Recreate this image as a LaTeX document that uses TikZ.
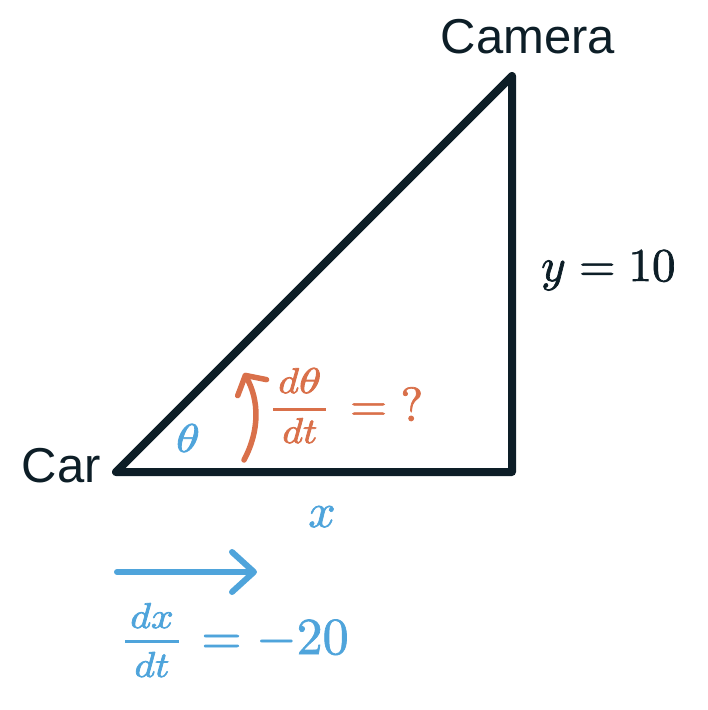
\documentclass[tikz,border=0pt]{standalone}
\usepackage{amsmath}
\usepackage{graphicx}
\usepackage[no-math]{fontspec}
\DeclareFontShape{OT1}{cmr}{m}{n}{<->cmr10}{}
\DeclareFontShape{OML}{cmm}{m}{it}{<->cmmi10}{}
\DeclareFontShape{OMS}{cmsy}{m}{n}{<->cmsy10}{}
\DeclareFontShape{OMX}{cmex}{m}{n}{<->cmex10}{}
\newfontfamily\labelfont{Liberation Sans}
\usetikzlibrary{arrows.meta}
\definecolor{ink}{HTML}{0D1E27}
\definecolor{skyb}{HTML}{4FA4DB}
\definecolor{rust}{HTML}{D9704A}
% slightly heavier rendering of the math glyphs (fill + thin stroke)
\newcommand\heavy[1]{\special{pdf:literal direct 2 Tr 0.7 w}#1\special{pdf:literal direct 0 Tr}}
% #1 numerator, #2 denominator, #3 raise of numerator, #4 raise of denominator, #5 side padding
\newcommand\kfrac[5]{\genfrac{}{}{3pt}{1}%
  {\raisebox{#3}{\hbox{\kern#5\fontsize{36}{36}\selectfont#1\kern#5}}}%
  {\raisebox{#4}{\hbox{\kern#5\fontsize{36}{36}\selectfont#2\kern#5}}}}
\tikzset{
  tri/.style={draw=ink, line width=8pt, line join=round, line cap=round},
  word/.style={inner sep=0pt, text=ink, font=\labelfont\fontsize{49}{58}\selectfont},
  mathlbl/.style={inner sep=0pt, font=\fontsize{48}{56}\selectfont},
  bluearrow/.style={draw=skyb, line width=6pt, line cap=round, -{Straight Barb[length=22pt,width=40pt,line cap=round,line join=round]}},
  rustarrow/.style={draw=rust, line width=5.5pt, line cap=round, -{Straight Barb[length=14pt,width=33pt,line cap=round,line join=round]}}
}
\begin{document}
\begin{tikzpicture}[x=1pt,y=-1pt]
\useasboundingbox (0,0) rectangle (708,710);
\coordinate (car) at (116,472);
\coordinate (corner) at (512,472);
\coordinate (cam) at (512,76);
\draw[tri] (car) -- (corner) -- (cam) -- cycle;
\node[word, anchor=base east] (carlbl) at (101,482) {Car};
\node[word, anchor=base] (camlbl) at (528,53) {Camera};
\node[mathlbl, text=skyb, font=\fontsize{40}{48}\selectfont] (theta) at (188,438) {\heavy{\scalebox{1.2}[1]{$\theta$}}};
\node[mathlbl, text=skyb, anchor=base] (xlbl) at (322,527) {\heavy{$x$}};
\node[mathlbl, text=ink, anchor=base west, font=\fontsize{47}{56}\selectfont] (ylbl) at (541,281) {\heavy{$y=10$}};
\coordinate (ra) at (244,460);
\coordinate (rb) at (244,373);
\draw[rustarrow] (ra) .. controls (260,430) and (259,400) .. (rb);
\node[mathlbl, text=rust, anchor=base west] (rate) at (272,421)
  {\heavy{$\kfrac{\scalebox{1.1}[1]{$d$}\scalebox{1.25}[1]{$\theta$}}{\scalebox{1.1}[1]{$dt$}}{9pt}{-5.5pt}{5pt}\kern9pt= {?}$}};
\coordinate (ba) at (117,572);
\coordinate (bb) at (257,572);
\draw[bluearrow] (ba) -- (bb);
\node[mathlbl, text=skyb, anchor=base west, font=\fontsize{52}{60}\selectfont] (speed) at (124,654)
  {\heavy{$\kfrac{\scalebox{1.1}[1]{$dx$}}{\scalebox{1.1}[1]{$dt$}}{5.5pt}{-5pt}{5pt}\kern7pt=-20$}};
\end{tikzpicture}
\end{document}
